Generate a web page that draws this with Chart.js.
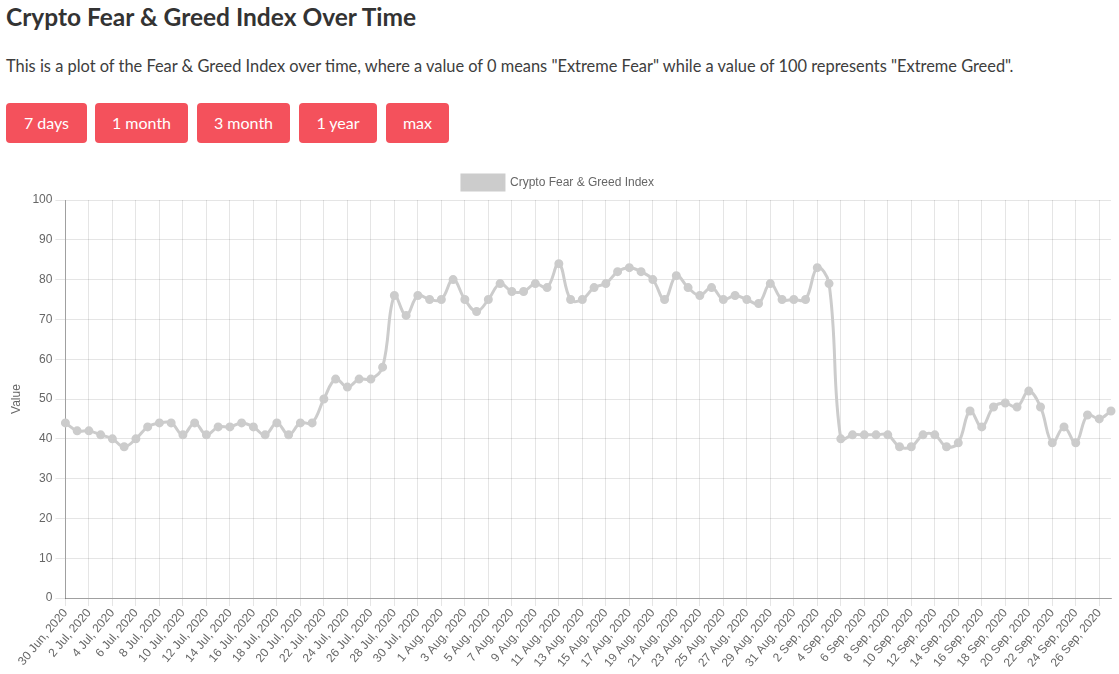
<!DOCTYPE html>
<html>
<head>
<meta charset="utf-8">
<script src="https://cdn.jsdelivr.net/npm/chart.js@4"></script>
<style>
  html, body { margin: 0; padding: 0; background: #fff; }
  body { width: 1119px; height: 674px; position: relative; overflow: hidden; font-family: "Lato", "Open Sans", sans-serif; }
  h1 { position: absolute; left: 6px; top: 2px; margin: 0; font-size: 24.5px; font-weight: 700; color: #333; }
  p.desc { position: absolute; left: 6px; top: 56px; margin: 0; font-size: 16.4px; color: #3d3d3d; }
  .btns { position: absolute; top: 103px; left: 0; }
  .btn { position: absolute; top: 0; height: 40px; line-height: 40px; background: #f4515c; color: #fff; border-radius: 4px; text-align: center; font-size: 16px; }
  #wrap { position: absolute; left: 0; top: 165px; width: 1119px; height: 509px; }
</style>
</head>
<body>
<h1>Crypto Fear &amp; Greed Index Over Time</h1>
<p class="desc">This is a plot of the Fear &amp; Greed Index over time, where a value of 0 means "Extreme Fear" while a value of 100 represents "Extreme Greed".</p>
<div class="btns">
  <div class="btn" style="left:6px;width:81px;">7 days</div>
  <div class="btn" style="left:95px;width:93px;">1 month</div>
  <div class="btn" style="left:197px;width:93px;">3 month</div>
  <div class="btn" style="left:299px;width:78px;">1 year</div>
  <div class="btn" style="left:386px;width:63px;">max</div>
</div>
<div id="wrap"><canvas id="c"></canvas></div>
<script>
const julyDays = ["30 Jun, 2020"];
const months = [["Jul", 31], ["Aug", 31], ["Sep", 27]];
const categories = julyDays.slice();
for (const [m, n] of months) {
  for (let d = 1; d <= n; d++) categories.push(d + " " + m + ", 2020");
}
const indexValues = [
  44,
  42, 42, 41, 40, 38, 40, 43, 44, 44, 41, 44, 41, 43, 43, 44, 43, 41, 44, 41, 44, 44, 50, 55, 53, 55, 55, 58, 76, 71, 76, 75,
  75, 80, 75, 72, 75, 79, 77, 77, 79, 78, 84, 75, 75, 78, 79, 82, 83, 82, 80, 75, 81, 78, 76, 78, 75, 76, 75, 74, 79, 75, 75,
  75, 83, 79, 40, 41, 41, 41, 41, 38, 38, 41, 41, 38, 39, 47, 43, 48, 49, 48, 52, 48, 39, 43, 39, 46, 45, 47
];
const seriesName = "Crypto Fear & Greed Index";
const yTicks = [0, 10, 20, 30, 40, 50, 60, 70, 80, 90, 100];

Chart.defaults.font.family = '"Liberation Sans", Arial, Helvetica, sans-serif';
Chart.defaults.font.size = 12;
Chart.defaults.color = '#666';

new Chart(document.getElementById('c'), {
  type: 'line',
  data: {
    labels: categories,
    datasets: [{
      label: seriesName,
      data: indexValues,
      borderColor: '#cccccc',
      backgroundColor: '#cccccc',
      pointBackgroundColor: '#cccccc',
      pointBorderColor: '#cccccc',
      borderWidth: 3,
      pointRadius: 3,
      tension: 0.4,
      fill: false
    }]
  },
  options: {
    responsive: true,
    maintainAspectRatio: false,
    animation: false,
    layout: { padding: { left: 5, right: 8, top: 0, bottom: 4 } },
    plugins: {
      legend: {
        display: true,
        labels: { boxWidth: 42, boxHeight: 15, padding: 10, color: '#666' }
      },
      tooltip: { enabled: false }
    },
    scales: {
      x: {
        grid: { color: 'rgba(0,0,0,0.1)', tickLength: 8 },
        border: { color: 'rgba(0,0,0,0.3)' },
        ticks: {
          autoSkip: false,
          minRotation: 50,
          maxRotation: 50,
          padding: 0,
          callback: function (v, i) { return i % 2 === 0 ? categories[i] : null; }
        }
      },
      y: {
        min: yTicks[0],
        max: yTicks[yTicks.length - 1],
        afterBuildTicks: function (axis) { axis.ticks = yTicks.map(v => ({ value: v })); },
        grid: { color: 'rgba(0,0,0,0.1)', tickLength: 10 },
        border: { color: 'rgba(0,0,0,0.3)' },
        ticks: { padding: 3 },
        title: { display: true, text: 'Value', color: '#666', padding: { top: 4, bottom: 6 } }
      }
    }
  }
});
</script>
</body>
</html>
